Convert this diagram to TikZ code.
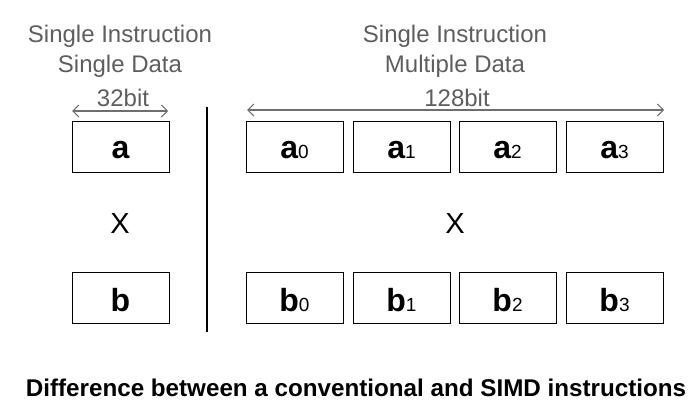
\documentclass[tikz,border=0pt]{standalone}
\usepackage{fontspec}
\setmainfont{Liberation Sans}
\usetikzlibrary{arrows.meta}
\definecolor{headgray}{HTML}{5E5E5E}
\definecolor{arrowgray}{HTML}{6E6E6E}
\newcommand\dsub[1]{{\fontsize{19}{19}\selectfont\mdseries #1}}
\begin{document}
\begin{tikzpicture}[x=1pt,y=-1pt,
 cell/.style={draw=black,line width=1.2pt,minimum width=97pt,minimum height=51pt,inner sep=0pt,anchor=north west},
 head/.style={text=headgray,font=\fontsize{24}{24}\selectfont,anchor=base,inner sep=0pt},
 lab/.style={font=\fontsize{32}{32}\selectfont\bfseries,anchor=base,inner sep=0pt},
 times/.style={font=\fontsize{29}{29}\selectfont,anchor=base,inner sep=0pt},
 dim/.style={draw=arrowgray,line width=1.1pt,{Straight Barb[length=6pt,width=12pt]}-{Straight Barb[length=6pt,width=12pt]}},
]
\useasboundingbox (0,0) rectangle (700,414);
% headings
\node[head] (h1) at (120,43) {Single Instruction};
\node[head] (h2) at (120,73) {Single Data};
\node[head] (h3) at (455,43) {Single Instruction};
\node[head] (h4) at (455,73) {Multiple Data};
\node[head] (w32) at (123,107) {32bit};
\node[head] (w128) at (457,107) {128bit};
% cells
\node[cell] (ca) at (72,121) {};
\node[cell] (cb) at (72,272) {};
\node[cell] (a0) at (246,121) {};
\node[cell] (a1) at (353,121) {};
\node[cell] (a2) at (459,121) {};
\node[cell] (a3) at (566,121) {};
\node[cell] (b0) at (246,272) {};
\node[cell] (b1) at (353,272) {};
\node[cell] (b2) at (459,272) {};
\node[cell] (b3) at (566,272) {};
% labels
\node[lab] (la) at (120.5,158) {a};
\node[lab] (lb) at (120.5,311) {b};
\node[lab] (la0) at (294.5,158) {a\dsub{0}};
\node[lab] (la1) at (401.5,158) {a\dsub{1}};
\node[lab] (la2) at (507.5,158) {a\dsub{2}};
\node[lab] (la3) at (614.5,158) {a\dsub{3}};
\node[lab] (lb0) at (294.5,311) {b\dsub{0}};
\node[lab] (lb1) at (401.5,311) {b\dsub{1}};
\node[lab] (lb2) at (507.5,311) {b\dsub{2}};
\node[lab] (lb3) at (614.5,311) {b\dsub{3}};
\node[times] (x1) at (120,233) {X};
\node[times] (x2) at (455,233) {X};
% dimension arrows
\draw[dim] ([yshift=10pt]ca.north west) -- ([yshift=10pt,xshift=-2pt]ca.north east);
\draw[dim] ([yshift=11pt,xshift=1pt]a0.north west) -- ([yshift=11pt]a3.north east);
% divider
\coordinate (dt) at (207,107);
\coordinate (db) at (207,332);
\draw[line width=1.3pt] (dt) -- (db);
% caption
\node[font=\fontsize{24.2}{24.2}\selectfont\bfseries,anchor=base,inner sep=0pt] (cap) at (356,396) {Difference between a conventional and SIMD instructions};
\end{tikzpicture}
\end{document}
